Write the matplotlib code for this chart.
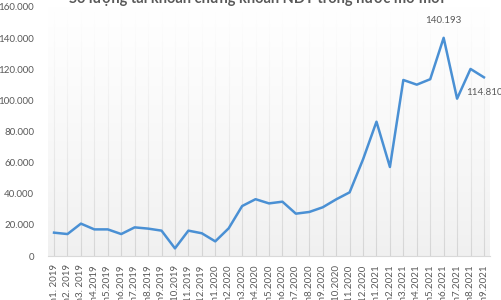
import numpy as np
import matplotlib
matplotlib.use("Agg")
import matplotlib.pyplot as plt

plt.rcParams['font.family'] = ['Lato', 'DejaVu Sans']

# so tai khoan mo moi theo thang
thang = ["Th1. 2019", "Th2. 2019", "Th3. 2019", "Th4.2019", "Th5.2019", "Th6.2019",
         "Th7.2019", "Th8.2019", "Th9.2019", "Th10.2019", "Th11.2019", "Th12.2019",
         "Th1.2020", "Th2.2020", "Th3.2020", "Th4.2020", "Th5.2020", "Th6.2020",
         "Th7.2020", "Th8.2020", "Th9.2020", "Th10.2020", "Th11.2020", "Th12.2020",
         "Th1.2021", "Th2.2021", "Th3.2021", "Th4.2021", "Th5.2021", "Th6.2021",
         "Th7.2021", "Th8.2021", "Th9.2021"]
so_tk = [15000, 14100, 20800, 17100, 17100, 14100, 18400, 17600, 16300, 4900,
         16300, 14600, 9400, 17800, 32100, 36500, 33800, 34900, 27200, 28300,
         31300, 36400, 40900, 62100, 86300, 57200, 113100, 110100, 113600, 140193,
         101100, 120200, 114810]

grey = '#595959'
fig = plt.figure(figsize=(5.01, 3.0), dpi=100)
ax = fig.add_axes([48/501, 44/300, 442/501, 249/300])
x = np.arange(len(so_tk))

ax.set_facecolor('#f0f0f0')
ax.vlines(x, 0, 160000, color='#d4d4d4', lw=0.8, zorder=1)
# lop phu trang mo dan xuong duoi
grad = np.zeros((256, 1, 4))
grad[..., :3] = 1.0
grad[:, 0, 3] = np.linspace(1, 0, 256) ** 0.8
ax.imshow(grad, extent=[-0.45, len(so_tk) - 0.55, 0, 160000], aspect='auto',
          zorder=2, interpolation='bilinear')

ax.plot(x, so_tk, color='#4a90d4', lw=1.8, zorder=3)

ax.set_xlim(-0.45, len(so_tk) - 0.55)
ax.set_ylim(0, 160000)
ax.set_yticks(np.arange(0, 160001, 20000))
ax.set_yticklabels(['0' if v == 0 else f"{v // 1000}.000" for v in range(0, 160001, 20000)])
ax.set_xticks(x)
ax.set_xticklabels(thang, rotation=90, va='top')
ax.tick_params(axis='both', length=0, colors=grey, labelsize=7)
ax.tick_params(axis='y', pad=10)
ax.tick_params(axis='x', pad=6)
for s in ['top', 'right', 'left']:
    ax.spines[s].set_visible(False)
ax.spines['bottom'].set_color('#d9d9d9')
ax.spines['bottom'].set_zorder(4)

i_max = int(np.argmax(so_tk))
ax.annotate("140.193", (x[i_max], so_tk[i_max]), xytext=(0, 9), textcoords='offset points',
            ha='center', va='bottom', fontsize=7, color=grey, zorder=5)
ax.annotate("114.810", (x[-1], so_tk[-1]), xytext=(0, -8), textcoords='offset points',
            ha='center', va='top', fontsize=7, color=grey, zorder=5)

fig.text(0.513, 0.99, "Số lượng tài khoản chứng khoán NĐT trong nước mở mới",
         ha='center', va='baseline', fontsize=10.5, fontweight='bold', color=grey)

fig.savefig("out.png", dpi=100)
